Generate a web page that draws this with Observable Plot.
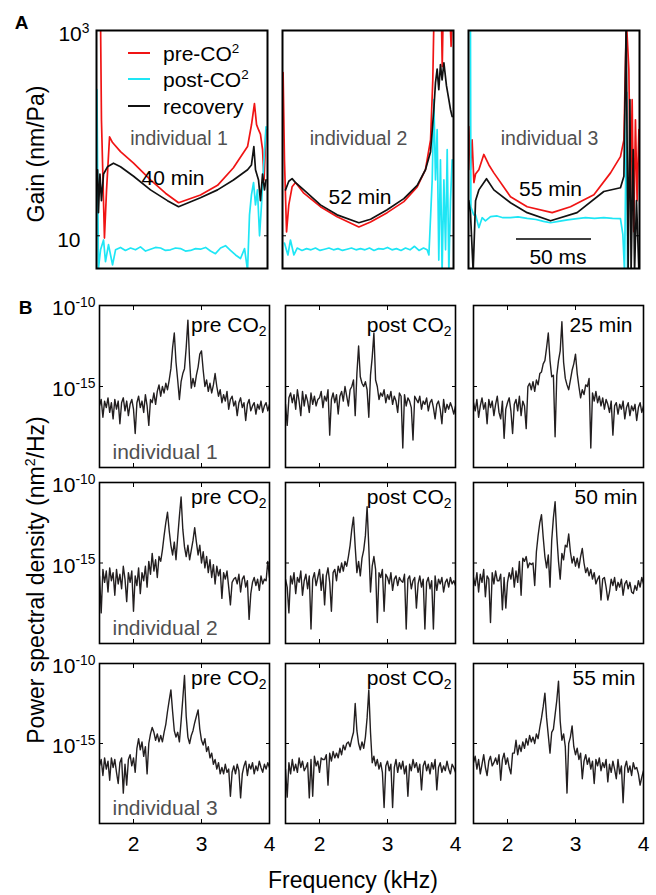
<!DOCTYPE html>
<html><head><meta charset="utf-8"><title>Gain and power spectral density</title>
<script src="https://cdn.jsdelivr.net/npm/d3@7"></script>
<script src="https://cdn.jsdelivr.net/npm/@observablehq/plot@0.6"></script>
<style>
html,body{margin:0;padding:0;background:#fff;}
#fig{position:relative;width:656px;height:895px;overflow:hidden;background:#fff;font-family:"Liberation Sans",Arial,Helvetica,sans-serif;color:#000;}
#fig .t{position:absolute;white-space:nowrap;line-height:1;}
#fig svg{overflow:visible;}
</style></head><body><div id="fig"></div>
<script>
// ---------- Panel A: gain (nm/Pa) vs time (ms), pairs [t, gain] ----------
const gainPre1 = [[0.3,1200],[2.7,1200],[3.3,135],[5.3,9.5],[6.7,28],[8.7,92],[10.7,81],[16,66],[24.7,51],[36,35],[46,26],[54.7,21],[69.3,25],[80.7,31],[91.3,46],[100.7,74],[103.3,120],[105.3,194],[106.7,121],[108,108],[109.3,98],[110.7,69],[111.7,35],[113,108]];
const gainPost1 = [[0.3,265],[1.3,4.8],[2.7,7.3],[4.7,9.1],[6,5.6],[8,8.2],[10.7,5.2],[12.7,7.3],[16,7.7],[19.3,7.2],[22.7,7.6],[26,7.3],[29.3,7.8],[32.7,7.1],[36,7.4],[39.3,7.7],[42.7,7.6],[46,7.2],[49.3,7.3],[52.7,7.6],[56,7.5],[59.3,7.1],[62.7,7.2],[66,7.5],[69.3,7.4],[72.7,7.7],[76,7.1],[79.3,6.7],[82.7,7.6],[86,8.0],[89.3,7.2],[92.7,6.5],[96,6.0],[98.7,7.5],[100.7,4.6],[102,16],[103.3,25],[104.7,33],[106,20],[107.3,28],[108.7,10],[110,20],[111.3,45],[113,115]];
const gainRec1 = [[0.7,44],[1.3,16.8],[2.3,40],[3.3,22],[4.7,40],[7.3,47],[11.3,51],[16,47],[24.7,38],[36,28],[47.3,22],[54.7,19.2],[69.3,23.5],[80.7,28],[91.3,35],[100.7,44],[103.3,49],[104.9,74],[106,44],[108,35],[109.3,22],[110.7,40],[112,28],[113,35]];

const gainPre2 = [[0.4,389],[1.3,55],[2.7,10.9],[4.2,20],[6.4,30],[8.7,33],[14.2,26],[25.3,19.2],[36.4,15.3],[50.9,12.2],[58.7,13.6],[69.8,16.8],[80.9,21.5],[89.8,30],[95.3,44],[98.7,86],[100.2,330],[100.9,1200],[106,1200],[106.5,445],[107,1200],[111.8,1200],[112.4,700],[113,1200]];
const gainPost2 = [[1.3,8.5],[3.6,6.5],[5.3,9.1],[7.6,6.5],[9.8,7.6],[13,7.2],[16,7.5],[19,7.3],[22,7.6],[25,7.2],[28,7.4],[31,7.6],[34,7.3],[37,7.5],[40,7.2],[43,7.4],[46,7.6],[49,7.3],[52,7.5],[55,7.3],[58,7.6],[61,7.2],[64,7.5],[67,7.4],[70,7.7],[73,7.3],[76,7.5],[79,7.2],[82,7.6],[85,7.3],[88,7.9],[91,7.2],[94,7.6],[96.4,7.3],[97.6,6.5],[99.8,35],[100.9,212],[102,35],[103.1,108],[104.2,5.8],[105.3,55],[106.4,4.5],[107.6,35],[108.7,7.3],[109.8,69],[110.9,4.5],[112,22],[113.1,55]];
const gainRec2 = [[2,28],[4.2,34],[6.4,36],[8.7,33],[14.2,28],[25.3,20],[36.4,16],[50.9,13.4],[58.7,14.5],[69.8,17.9],[80.9,23],[89.8,31],[95.3,44],[98.7,66],[100.9,170],[102,311],[103.1,420],[104.2,265],[105.3,466],[106.4,330],[107.6,485],[109.3,290],[110.9,212],[112,170],[113.1,145]];

const gainPre3 = [[0.2,116],[1.3,44],[2.4,86],[3.6,33],[4.7,40],[6.9,44],[10.2,62],[13.6,49],[16.9,41],[28,24],[39.1,19.2],[55.8,16.8],[68,19.2],[83.6,25.1],[94.7,41],[101.3,59],[103.6,86],[104.7,521],[105.3,1200],[106.9,420],[108,22],[109.1,212],[110.2,11],[111.3,135],[112.4,22],[113.6,108]];
const gainPost3 = [[0.5,1200],[1.3,1000],[1.6,19],[3.5,16],[4.7,16],[6.9,12],[9.1,15],[11.3,14],[14.7,15.4],[19.1,15.6],[23,15],[28,15],[33,15.3],[39.1,14.8],[45,14.4],[50,13.8],[54.7,13.4],[60,13.8],[66,14.3],[72.4,14.7],[78,15],[84,14.8],[90.2,15],[96,14.8],[101.3,14.7],[102.9,10.3],[104,4.5],[105.5,250],[106,4.5]];
const gainRec3 = [[0.2,22],[1.3,16.8],[3.1,4.5],[4.7,22],[6.9,28],[12,36],[16.9,28],[28,21],[39.1,16.8],[54.7,14],[72.4,16.8],[90.2,27],[101.3,29.4],[103.6,38],[105.1,1200],[106.4,4.5],[107.6,212],[108.4,4.5],[109.8,69],[110.7,4.5],[112,22],[113.6,4.5]];

const gainTicks = [10, 1000];
const recoveryTimes = ["40 min", "52 min", "55 min"];
const individuals = ["individual 1", "individual 2", "individual 3"];
const legendLabels = [["pre-CO", "2"], ["post-CO", "2"], ["recovery", ""]];
const scaleBar = {start: 32, length: 50, gain: 9.3};

// ---------- Panel B: log10 PSD (nm^2/Hz), frequency grid 1.5..4 kHz step 0.025 ----------
const freqStart = 1.5, freqStep = 0.025;
const freqTicks = [2, 3, 4];
const psdTicks = [1e-15, 1e-10];
const psdPre1 = [-16.2,-15.8,-16.9,-15.9,-16.3,-15.7,-16.6,-16.0,-17.0,-15.8,
 -16.4,-15.9,-17.3,-16.0,-15.7,-16.5,-15.9,-16.8,-16.1,-15.8,
 -16.4,-17.9,-16.0,-15.6,-16.3,-15.9,-16.6,-15.5,-16.2,-17.4,
 -15.8,-16.0,-15.4,-16.1,-15.3,-14.9,-15.6,-15.0,-15.4,-14.8,
 -15.2,-14.6,-13.9,-12.6,-11.7,-13.5,-14.6,-15.8,-14.7,-14.2,
 -13.9,-12.6,-10.9,-13.4,-15.1,-14.5,-15.0,-14.3,-13.8,-13.0,
 -12.8,-14.0,-15.0,-14.6,-15.3,-14.8,-15.4,-14.9,-14.2,-15.0,
 -15.6,-15.2,-16.0,-15.5,-15.9,-15.3,-16.4,-15.8,-15.6,-16.2,
 -15.9,-16.8,-16.0,-15.7,-16.3,-16.0,-17.1,-16.1,-15.8,-16.5,
 -16.2,-16.0,-16.7,-16.1,-16.4,-15.9,-16.6,-16.2,-16.0,-16.5,
 -16.1];
const psdPost1 = [-16.1,-17.4,-15.7,-15.4,-16.0,-15.5,-16.4,-15.2,-15.9,-16.8,
 -15.3,-16.2,-15.5,-15.9,-16.6,-15.4,-16.1,-15.6,-16.2,-15.8,
 -15.7,-15.3,-16.3,-15.6,-15.9,-15.2,-18.0,-15.8,-15.4,-16.0,
 -15.5,-16.7,-15.6,-15.3,-15.9,-15.0,-15.6,-16.2,-15.2,-15.0,
 -14.6,-16.8,-14.2,-12.5,-14.4,-14.8,-15.0,-14.7,-15.2,-16.9,
 -14.3,-13.2,-11.7,-14.6,-15.0,-15.8,-15.4,-15.6,-15.2,-16.0,
 -15.5,-15.8,-15.3,-16.1,-15.6,-15.9,-16.6,-15.4,-15.6,-18.8,
 -15.5,-16.2,-15.7,-15.9,-16.3,-18.3,-15.6,-15.8,-16.0,-15.6,
 -16.4,-15.9,-16.1,-15.7,-16.5,-16.0,-15.8,-16.3,-17.0,-16.1,
 -15.9,-16.4,-17.3,-15.8,-16.6,-16.1,-16.4,-16.0,-16.3,-16.7,
 -16.2];
const psdRec1 = [-16.0,-16.5,-15.8,-16.9,-16.2,-15.7,-16.4,-16.0,-17.3,-15.8,
 -16.3,-15.9,-16.8,-16.1,-15.6,-16.6,-17.0,-15.9,-18.2,-16.4,
 -16.0,-15.7,-16.5,-17.9,-16.1,-15.8,-16.5,-15.6,-16.8,-15.9,
 -16.2,-17.6,-15.0,-14.8,-15.2,-14.7,-15.3,-14.6,-14.9,-14.2,
 -14.1,-13.6,-13.4,-12.6,-11.7,-13.4,-14.4,-14.3,-18.1,-14.3,
 -13.4,-12.8,-11.0,-13.5,-14.5,-14.9,-15.2,-14.6,-14.0,-13.6,
 -13.0,-14.2,-15.0,-15.7,-15.2,-15.5,-14.9,-15.0,-14.5,-18.8,
 -15.4,-15.9,-15.3,-16.0,-15.6,-16.2,-15.7,-16.4,-15.8,-16.1,
 -16.6,-15.9,-18.0,-16.2,-16.0,-16.7,-16.1,-16.4,-15.9,-17.0,
 -16.3,-16.0,-16.8,-16.2,-16.5,-16.1,-17.1,-16.3,-16.0,-16.6,
 -16.2];
const psdPre2 = [-15.8,-18.1,-15.4,-16.2,-15.5,-16.8,-15.3,-16.1,-15.6,-17.0,
 -15.4,-16.3,-15.7,-16.6,-15.2,-16.0,-17.4,-15.6,-16.2,-15.5,
 -18.0,-15.8,-16.4,-15.3,-16.9,-15.6,-16.1,-15.2,-16.5,-14.9,
 -15.7,-14.4,-15.5,-14.8,-15.9,-14.6,-14.9,-14.2,-13.3,-12.5,
 -11.85,-13.0,-13.9,-14.5,-13.7,-14.8,-13.4,-12.1,-10.9,-12.9,
 -14.0,-14.6,-13.9,-14.8,-14.2,-13.6,-12.8,-13.7,-14.5,-13.9,
 -15.0,-14.3,-15.3,-14.6,-15.6,-14.8,-15.9,-15.1,-16.3,-15.2,
 -15.8,-15.4,-17.2,-15.6,-16.0,-15.5,-16.5,-17.6,-16.2,-16.0,
 -15.9,-16.3,-15.7,-16.8,-16.0,-15.8,-16.5,-16.1,-18.5,-16.9,
 -16.2,-15.9,-16.4,-16.0,-16.7,-15.8,-16.3,-16.0,-16.1,-14.9,
 -15.9];
const psdPost2 = [-16.0,-16.5,-18.1,-15.8,-16.3,-15.6,-16.9,-15.9,-16.2,-15.5,
 -17.0,-16.1,-15.7,-16.6,-15.8,-19.1,-16.0,-15.6,-16.4,-15.9,
 -15.4,-16.7,-15.7,-17.6,-15.8,-15.3,-16.2,-18.0,-15.6,-15.4,
 -16.1,-15.2,-15.6,-15.0,-15.5,-14.9,-15.2,-14.6,-13.9,-12.9,
 -12.15,-14.0,-15.6,-14.9,-15.8,-14.7,-14.2,-13.3,-11.5,-14.0,
 -16.8,-15.2,-14.6,-15.4,-18.7,-15.6,-15.9,-15.4,-18.0,-15.7,
 -15.9,-16.3,-15.6,-16.7,-16.0,-15.8,-16.4,-15.9,-16.1,-16.2,
 -15.7,-19.1,-16.0,-15.8,-16.6,-16.1,-15.9,-17.8,-16.3,-15.8,
 -16.5,-16.0,-19.1,-16.2,-15.9,-16.6,-16.1,-19.1,-15.8,-16.7,
 -16.0,-16.3,-15.9,-16.8,-16.2,-16.0,-16.5,-15.9,-16.3,-16.1,
 -16.4];
const psdRec2 = [-15.9,-16.4,-15.6,-16.8,-15.7,-16.2,-15.4,-17.1,-15.8,-16.0,
 -18.7,-15.6,-16.3,-15.5,-16.1,-16.1,-15.7,-17.9,-15.9,-17.8,
 -16.2,-15.6,-16.0,-15.3,-16.5,-15.5,-16.2,-14.9,-17.0,-14.7,
 -14.9,-14.6,-15.3,-15.0,-15.1,-15.0,-16.4,-14.3,-13.3,-12.5,
 -12.0,-13.4,-14.6,-15.3,-14.5,-16.5,-13.6,-12.2,-11.2,-13.3,
 -14.9,-16.0,-14.4,-14.8,-13.9,-14.0,-13.2,-14.3,-15.0,-14.6,
 -15.2,-14.7,-15.3,-14.6,-14.1,-15.0,-15.6,-15.3,-15.8,-15.4,
 -16.0,-15.6,-16.3,-16.0,-15.8,-17.3,-16.0,-15.9,-16.5,-17.3,
 -16.8,-16.0,-16.4,-15.9,-16.7,-16.2,-16.5,-16.0,-17.0,-16.3,
 -16.1,-16.6,-16.2,-16.8,-16.9,-16.4,-16.7,-16.1,-16.5,-15.9,
 -16.3];
const psdPre3 = [-16.4,-16.0,-17.0,-15.9,-16.6,-16.1,-17.3,-15.9,-16.5,-16.0,
 -16.8,-17.5,-16.2,-15.9,-18.1,-16.3,-17.6,-16.0,-15.7,-16.4,
 -15.9,-16.8,-15.3,-14.7,-15.4,-14.9,-15.8,-15.2,-16.9,-15.0,
 -14.4,-14.0,-14.3,-14.8,-14.4,-14.9,-14.5,-14.9,-14.3,-13.8,
 -13.0,-12.3,-11.65,-13.0,-14.2,-14.6,-14.3,-14.9,-13.6,-12.2,
 -10.75,-13.3,-14.6,-15.0,-14.5,-14.2,-13.7,-13.3,-12.9,-14.1,
 -14.8,-15.1,-14.7,-15.5,-15.2,-15.9,-15.6,-16.3,-16.0,-16.6,
 -16.2,-16.9,-16.5,-16.9,-16.3,-16.8,-16.6,-18.3,-16.8,-16.4,
 -16.9,-16.3,-16.7,-18.4,-16.9,-16.4,-16.1,-17.0,-16.3,-16.6,
 -16.2,-16.9,-16.4,-16.7,-16.1,-16.5,-16.8,-16.3,-16.6,-16.2,
 -16.5];
const psdPost3 = [-16.6,-18.35,-16.2,-16.9,-16.0,-16.7,-16.3,-16.8,-15.9,-16.5,
 -16.1,-16.7,-16.5,-16.2,-18.4,-16.0,-18.3,-15.8,-16.4,-16.1,
 -16.8,-15.9,-16.0,-16.0,-15.7,-17.6,-15.6,-16.1,-15.5,-15.9,
 -15.6,-15.9,-15.3,-15.7,-15.1,-15.4,-15.0,-14.9,-15.2,-14.7,
 -14.3,-12.5,-14.2,-15.0,-15.4,-14.9,-15.3,-14.6,-13.4,-11.65,
 -14.3,-16.2,-15.8,-16.4,-16.0,-16.6,-16.2,-16.8,-19.0,-16.4,
 -16.1,-16.7,-16.3,-19.0,-16.5,-16.0,-16.8,-16.2,-16.6,-16.1,
 -16.9,-16.4,-18.3,-16.3,-16.7,-16.0,-16.5,-16.2,-16.8,-16.3,
 -17.9,-16.4,-16.1,-16.7,-16.3,-16.9,-16.2,-16.6,-16.0,-17.9,
 -16.5,-16.2,-16.8,-16.4,-16.7,-16.1,-16.6,-16.9,-16.3,-16.5,
 -16.8];
const psdRec3 = [-16.2,-15.8,-16.6,-16.0,-16.9,-16.3,-15.7,-16.5,-17.0,-16.1,
 -15.8,-16.4,-16.2,-15.9,-16.3,-15.7,-17.3,-16.0,-15.6,-16.3,
 -15.9,-16.5,-16.9,-15.6,-15.6,-14.8,-15.7,-15.1,-15.5,-14.9,
 -15.3,-14.7,-15.1,-14.5,-14.9,-14.6,-15.0,-14.4,-14.7,-14.0,
 -13.4,-12.7,-11.85,-13.4,-14.5,-15.6,-14.3,-14.1,-13.2,-12.3,
 -11.1,-13.6,-14.8,-14.4,-15.2,-18.1,-15.0,-14.6,-13.9,-15.2,
 -15.7,-15.3,-16.0,-15.6,-17.2,-16.1,-15.7,-16.3,-15.9,-16.6,
 -16.1,-17.5,-16.0,-16.4,-15.9,-16.7,-16.2,-16.5,-16.0,-17.4,
 -16.3,-16.8,-16.1,-16.6,-17.2,-16.0,-16.9,-16.4,-18.7,-16.5,
 -16.1,-16.8,-16.4,-17.0,-16.2,-16.6,-16.5,-16.9,-17.6,-17.1,
 -16.7];
const psdSeries = [[psdPre1, psdPost1, psdRec1], [psdPre2, psdPost2, psdRec2], [psdPre3, psdPost3, psdRec3]];
const psdConditions = [["pre CO_2", "post CO_2", "25 min"], ["pre CO_2", "post CO_2", "50 min"], ["pre CO_2", "post CO_2", "55 min"]];

// ---------- rendering ----------
const NS = "http://www.w3.org/2000/svg";
const FONT = '"Liberation Sans", Arial, Helvetica, sans-serif';
const RED = "#f01414", CYAN = "#1ee6f5", DARK = "#111111", TRACE = "#231f20", GRAY = "#505050";
const fig = document.getElementById("fig");

function richText(svg) {
  svg.querySelectorAll("text").forEach(t => {
    const s = t.textContent;
    const m = s.match(/^(.*?)([\^_])(.+)$/);
    if (!m) return;
    while (t.firstChild) t.removeChild(t.firstChild);
    const a = document.createElementNS(NS, "tspan"); a.textContent = m[1];
    const b = document.createElementNS(NS, "tspan"); b.textContent = m[3];
    b.setAttribute("font-size", "0.66em");
    b.setAttribute("dy", m[2] === "^" ? "-0.6em" : "0.3em");
    t.append(a, b);
  });
}
function place(svg, left, top) {
  svg.style.position = "absolute";
  svg.style.left = left + "px";
  svg.style.top = top + "px";
  svg.style.overflow = "visible";
  svg.style.background = "transparent";
  svg.style.maxWidth = "none";
  svg.style.fontFamily = FONT;
  fig.appendChild(svg);
}
function addText(html, cx, cy, size, opts = {}) {
  const d = document.createElement("div");
  d.className = "t";
  d.style.left = cx + "px"; d.style.top = cy + "px";
  d.style.fontSize = size + "px";
  d.style.transform = "translate(-50%,-50%)" + (opts.rotate ? " rotate(-90deg)" : "");
  if (opts.bold) d.style.fontWeight = "bold";
  d.innerHTML = html;
  fig.appendChild(d);
}

// Panel A
const gainPanels = [
  {series: [gainPre1, gainPost1, gainRec1], left: 96, whoDx: -3, recDx: -9, recDy: 148, ticks: true},
  {series: [gainPre2, gainPost2, gainRec2], left: 282, whoDx: -9.5, recDx: -8, recDy: 167},
  {series: [gainPre3, gainPost3, gainRec3], left: 468, whoDx: -4.5, recDx: -3.5, recDy: 159, bar: true}
];
gainPanels.forEach((p, k) => {
  const colors = [RED, CYAN, DARK];
  const marks = p.series.map((s, j) => Plot.line(s, {x: d => d[0], y: d => d[1], stroke: colors[j], strokeWidth: 1.7, clip: true}));
  marks.push(Plot.frame({stroke: "black", strokeWidth: 2}));
  marks.push(Plot.axisY({anchor: "left", ticks: gainTicks, tickSize: -4, fill: "none", label: null}));
  marks.push(Plot.axisY({anchor: "right", ticks: gainTicks, tickSize: -4, fill: "none", label: null}));
  if (p.ticks) marks.push(Plot.axisY({anchor: "left", ticks: gainTicks, tickSize: 0, tickPadding: 7, dy: 4, fontSize: 21, stroke: "none", label: null, tickFormat: d => d >= 1000 ? "10^3" : "10"}));
  marks.push(Plot.text([individuals[k]], {frameAnchor: "top", lineAnchor: "middle", dx: p.whoDx, dy: 108, text: d => d, fontSize: 19.5, fill: GRAY}));
  marks.push(Plot.text([recoveryTimes[k]], {frameAnchor: "top", lineAnchor: "middle", dx: p.recDx, dy: p.recDy, text: d => d, fontSize: 21, fill: "black"}));
  if (p.bar) {
    marks.push(Plot.ruleY([scaleBar], {y: d => d.gain, x1: d => d.start, x2: d => d.start + d.length, stroke: "black", strokeWidth: 1.5}));
    marks.push(Plot.text([scaleBar], {x: d => d.start + d.length / 2, y: d => d.gain, lineAnchor: "middle", dx: 4, dy: 18, text: d => d.length + " ms", fontSize: 21, fill: "black"}));
  }
  const svg = Plot.plot({
    width: 171, height: 238, margin: 0,
    x: {domain: [0, 114], axis: null},
    y: {type: "log", domain: [4.8, 1000]},
    style: {background: "transparent", overflow: "visible", fontFamily: FONT},
    marks
  });
  richText(svg);
  if (p.ticks) svg.querySelectorAll("text").forEach(t => { if (t.textContent === "10") t.setAttribute("dx", "-9"); });
  place(svg, p.left, 30);
});

// Legend (inside first gain panel)
[[RED, 53], [CYAN, 79], [DARK, 106]].forEach(([c, y], i) => {
  const ln = document.createElement("div");
  ln.style.cssText = `position:absolute;left:128px;top:${y - 1}px;width:22px;height:2px;background:${c}`;
  fig.appendChild(ln);
  const tx = document.createElement("div");
  tx.className = "t";
  tx.style.cssText += `left:163px;top:${y}px;font-size:21px;transform:translateY(-50%)`;
  const [base, sup] = legendLabels[i];
  tx.innerHTML = base + (sup ? `<sup style="font-size:0.64em;vertical-align:0.55em;line-height:0">${sup}</sup>` : "");
  fig.appendChild(tx);
});

// Panel B
const colLeft = [99, 285, 473], rowTop = [305, 482, 663], rowH = [162, 161, 160];
const condDx = [[-3, -4, -11], [-3, -4, -6], [-3, -4, -8]];
const condDy = [20, 15, 15];
psdSeries.forEach((rowSeries, r) => {
  rowSeries.forEach((vals, c) => {
    const data = vals.map((v, i) => ({f: freqStart + i * freqStep, p: Math.pow(10, v)}));
    const marks = [
      Plot.line(data, {x: "f", y: "p", stroke: TRACE, strokeWidth: 1.4, clip: true}),
      Plot.frame({stroke: "black", strokeWidth: 1.6}),
      Plot.axisX({anchor: "bottom", ticks: [2, 3], tickSize: -4, fill: "none", label: null}),
      Plot.axisX({anchor: "top", ticks: [2, 3], tickSize: -4, fill: "none", label: null}),
      Plot.axisY({anchor: "left", ticks: [1e-15], tickSize: -4, fill: "none", label: null}),
      Plot.axisY({anchor: "right", ticks: [1e-15], tickSize: -4, fill: "none", label: null}),
      Plot.text([psdConditions[r][c]], {frameAnchor: "top-right", textAnchor: "end", lineAnchor: "middle", dx: condDx[r][c], dy: condDy[r], text: d => d, fontSize: 21, fill: "black"})
    ];
    if (c === 0) {
      marks.push(Plot.axisY({anchor: "left", ticks: psdTicks, tickSize: 0, tickPadding: 4, dy: 3, fontSize: 21, stroke: "none", label: null, tickFormat: d => "10^" + Math.round(Math.log10(d))}));
      marks.push(Plot.text([individuals[r]], {frameAnchor: "bottom-left", textAnchor: "start", lineAnchor: "middle", dx: 13, dy: -15, text: d => d, fontSize: 21, fill: GRAY}));
    }
    if (r === 2) marks.push(Plot.axisX({anchor: "bottom", ticks: freqTicks, tickSize: 0, tickPadding: 13, fontSize: 21, stroke: "none", label: null, tickFormat: d => String(d)}));
    const svg = Plot.plot({
      width: 170, height: rowH[r], margin: 0,
      x: {domain: [1.5, 4]},
      y: {type: "log", domain: [1e-20, 1e-10]},
      style: {background: "transparent", overflow: "visible", fontFamily: FONT},
      marks
    });
    richText(svg);
    place(svg, colLeft[c], rowTop[r]);
  });
});

// Titles and panel letters
addText("A", 21.5, 21.5, 19, {bold: true});
addText("B", 25.5, 306.5, 19, {bold: true});
addText("Gain (nm/Pa)", 36, 154, 23, {rotate: true});
addText("Power spectral density (nm<sup style=\"font-size:0.62em;vertical-align:0.6em;line-height:0\">2</sup>/Hz)", 36, 580, 23, {rotate: true});
addText("Frequency (kHz)", 353, 880, 23);
</script></body></html>
